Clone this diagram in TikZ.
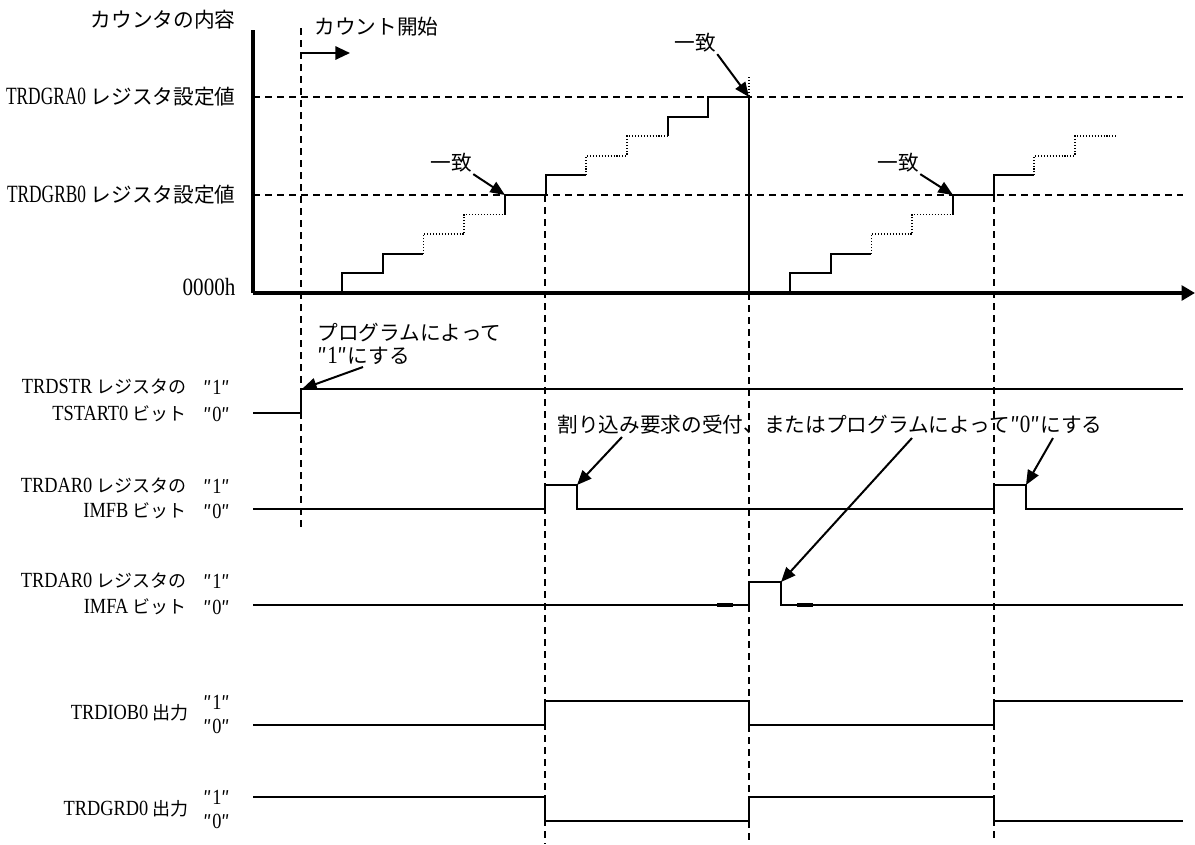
\documentclass[tikz,border=0pt]{standalone}
\usepackage{fontspec}
\setmainfont{Noto Sans CJK JP}
\newfontfamily\lat[FakeStretch=0.7,Scale=1.2]{Liberation Serif}
\newfontfamily\latw[FakeStretch=0.85,Scale=1.2]{Liberation Serif}
\usepackage{tikz}
\usetikzlibrary{arrows.meta,calc,positioning}

\begin{document}
\begin{tikzpicture}[x=0.75pt,y=-0.75pt,
   txt/.style={inner sep=1pt,font=\fontsize{15.5}{17.3}\selectfont},
   sigtxt/.style={inner sep=1pt,font=\fontsize{13.5}{15}\selectfont},
   axis/.style={line width=2.6pt},
   sig/.style={line width=1.5pt},
   guide/.style={line width=1.3pt,dash pattern=on 5.5pt off 3.5pt},
   dotstep/.style={line width=1.3pt,dash pattern=on 0.8pt off 1.4pt},
   pointer/.style={line width=1.5pt,-{Triangle[length=11pt,width=9pt]}}]
   \useasboundingbox (0,0) rectangle (1195,844);

   % guide lines
   \draw[guide] (253,97) -- (1183,97);
   \draw[guide] (253,195) -- (1183,195);
   \draw[guide] (301,28) -- (301,527);
   \draw[guide] (545,195) -- (545,844);
   \draw[guide] (749,293) -- (749,844);
   \draw[guide] (994,195) -- (994,840);
   \draw[dotstep] (749,77) -- (749,97);

   % counter
   \foreach \k/\s in {0/sig,1/dotstep,2/sig,3/dotstep,4/sig}
     \draw[\s] ({342+81.4*\k},{293-39.2*\k}) -- ++(0,-19.6) -- ++(40.7,0)
       -- ++(0,-19.6) -- ++(40.7,0);
   \draw[sig] (749,97) -- (749,293);
   \foreach \k/\s in {0/sig,1/dotstep,2/sig,3/dotstep}
     \draw[\s] ({790+81.4*\k},{293-39.2*\k}) -- ++(0,-19.6) -- ++(40.7,0)
       -- ++(0,-19.6) -- ++(40.7,0);

   \draw[axis] (253,30) -- (253,293);
   \draw[axis,-{Triangle[length=10pt,width=11pt]}] (253,293) -- (1195,293);

   \node[txt,anchor=east] (cntlbl) at (237,20) {カウンタの内容};
   \node[txt,anchor=east] (gralbl) at (237,97) {{\lat TRDGRA0} レジスタ設定値};
   \node[txt,anchor=east] (grblbl) at (237,195) {{\lat TRDGRB0} レジスタ設定値};
   \node[txt,anchor=east] (zerolbl) at (237,287) {\latw 0000h};

   \node[txt,anchor=west] (startlbl) at (313,27) {カウント開始};
   \coordinate (cs) at (301,53);
   \coordinate (ce) at (350,53);
   \draw[line width=1.5pt,-{Triangle[length=11pt,width=10pt]}] (cs) -- (ce);

   \node[txt] (ichiA) at (695,43) {一致};
   \node[txt] (ichiB) at (451,163) {一致};
   \node[txt] (ichiC) at (898,163) {一致};
   \coordinate (gaA) at (749,97);
   \coordinate (gbA) at (505,195);
   \coordinate (gbB) at (953,195);
   \draw[pointer] (ichiA.south east) -- (gaA);
   \draw[pointer] (ichiB.south east) -- (gbA);
   \draw[pointer] (ichiC.south east) -- (gbB);

   % signals
   \draw[sig] (253,413) -- (301,413) -- (301,389) -- (1183,389);
   \draw[sig] (253,509) -- (545,509) -- (545,485) -- (577,485) -- (577,509)
     -- (994,509) -- (994,485) -- (1026,485) -- (1026,509) -- (1183,509);
   \draw[sig] (253,605) -- (749,605) -- (749,582) -- (781,582) -- (781,605)
     -- (1183,605);
   \draw[line width=2.6pt] (717,605) -- (733,605);
   \draw[line width=2.6pt] (797,605) -- (813,605);
   \draw[sig] (253,725) -- (545,725) -- (545,701) -- (749,701) -- (749,725)
     -- (994,725) -- (994,701) -- (1183,701);
   \draw[sig] (253,797) -- (545,797) -- (545,821) -- (749,821) -- (749,797)
     -- (994,797) -- (994,821) -- (1183,821);

   \node[sigtxt,anchor=east] (strA) at (188,387) {{\latw TRDSTR} レジスタの};
   \node[sigtxt,anchor=east] (strB) at (188,414) {{\latw TSTART0} ビット};
   \node[sigtxt] (strA1) at (217,387) {″{\latw 1}″};
   \node[sigtxt] (strB0) at (217,414) {″{\latw 0}″};
   \node[sigtxt,anchor=east] (imfbA) at (188,486) {{\latw TRDAR0} レジスタの};
   \node[sigtxt,anchor=east] (imfbB) at (188,511) {{\latw IMFB} ビット};
   \node[sigtxt] (imfbA1) at (217,486) {″{\latw 1}″};
   \node[sigtxt] (imfbB0) at (217,511) {″{\latw 0}″};
   \node[sigtxt,anchor=east] (imfaA) at (188,581) {{\latw TRDAR0} レジスタの};
   \node[sigtxt,anchor=east] (imfaB) at (188,607) {{\latw IMFA} ビット};
   \node[sigtxt] (imfaA1) at (217,581) {″{\latw 1}″};
   \node[sigtxt] (imfaB0) at (217,607) {″{\latw 0}″};
   \node[sigtxt,anchor=east] (ioblbl) at (190,713) {{\latw TRDIOB0} 出力};
   \node[sigtxt] (iob1) at (217,702) {″{\latw 1}″};
   \node[sigtxt] (iob0) at (217,726) {″{\latw 0}″};
   \node[sigtxt,anchor=east] (grdlbl) at (190,809) {{\latw TRDGRD0} 出力};
   \node[sigtxt] (grd1) at (217,797) {″{\latw 1}″};
   \node[sigtxt] (grd0) at (217,821) {″{\latw 0}″};

   % notes
   \node[txt,anchor=west,align=left] (proglbl) at (316,344)
     {プログラムによって\\″{\latw 1}″にする};
   \coordinate (pt) at (363,367);
   \coordinate (strup) at (302,389);
   \draw[pointer] (pt) -- (strup);

   \node[txt,anchor=west] (clrlbl) at (556,425)
     {割り込み要求の受付、またはプログラムによって″{\latw 0}″にする};
   \coordinate (c1) at (622,437);
   \coordinate (c2) at (912,438);
   \coordinate (c3) at (1053,438);
   \coordinate (fbA) at (577,485);
   \coordinate (faA) at (781,582);
   \coordinate (fbB) at (1026,485);
   \draw[pointer] (c1) -- (fbA);
   \draw[pointer] (c2) -- (faA);
   \draw[pointer] (c3) -- (fbB);
\end{tikzpicture}
\end{document}
